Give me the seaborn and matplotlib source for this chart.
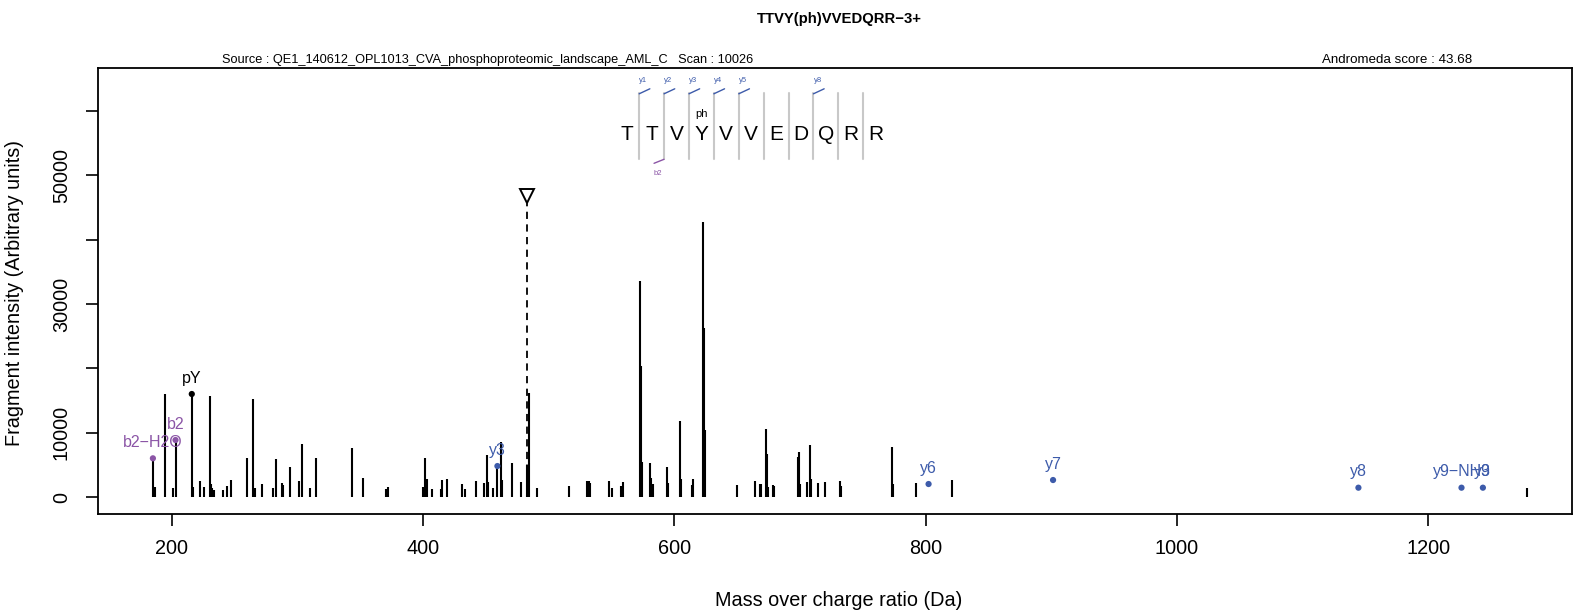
import matplotlib
matplotlib.use("Agg")
import matplotlib.pyplot as plt
import seaborn as sns
import pandas as pd
from matplotlib.lines import Line2D

# ---------------- data ----------------
peak_mz = [
    185.09, 187.0, 195.0, 200.9, 203.10, 216.04, 216.7, 222.9, 226.0, 230.3,
    231.4, 232.4, 233.5, 240.9, 244.1, 247.0, 260.3, 265.0, 266.1, 272.2,
    280.9, 283.1, 287.6, 288.6, 294.2, 301.4, 303.5, 310.4, 315.2, 343.3,
    352.1, 370.6, 372.5, 400.1, 401.9, 403.0, 407.0, 414.2, 415.5, 418.9,
    431.4, 433.7, 442.3, 448.9, 451.0, 452.1, 456.0, 459.28, 462.4, 463.2,
    470.7, 477.8, 483.0, 484.2, 491.0, 516.3, 530.6, 531.9, 533.2, 547.9,
    550.5, 557.4, 559.3, 572.9, 573.4, 574.6, 580.5, 581.6, 582.9, 594.4,
    595.4, 604.6, 605.4, 613.9, 614.6, 623.2, 623.7, 624.2, 650.2, 664.1,
    668.3, 668.9, 672.8, 673.6, 674.4, 678.4, 679.7, 698.3, 699.3, 700.4,
    705.4, 707.8, 708.6, 714.7, 719.8, 731.7, 732.8, 773.1, 773.9, 792.4,
    820.8, 1278.5,
]
peak_intensity = [
    6040, 1530, 15970, 1380, 8880, 16020, 1640, 2570, 1640, 15760,
    2050, 1380, 1120, 1120, 1740, 2670, 6130, 15190, 1380, 2050,
    1480, 5930, 2150, 1900, 4690, 2510, 8310, 1480, 6080, 7690,
    3030, 1220, 1530, 1560, 6030, 2880, 1330, 1220, 2670, 2820,
    2000, 1330, 2510, 2200, 6550, 2300, 1430, 4840, 8620, 2670,
    5260, 2300, 5000, 16100, 1380, 1790, 2570, 2570, 2150, 2500,
    1380, 1740, 2300, 33500, 20400, 5450, 5360, 2930, 2000, 4640,
    2250, 11780, 2770, 1900, 2800, 42660, 26250, 10400, 1900, 2570,
    2100, 2000, 10600, 6700, 1600, 1850, 1700, 6190, 7000, 2100,
    2400, 8050, 2800, 2150, 2300, 2460, 1700, 7850, 2100, 2150,
    2670, 1500,
]

ann_label = ["b2\u2212H2O", "b2", "pY", "y3", "y6", "y7", "y8", "y9\u2212NH3", "y9"]
ann_mz = [185.09, 203.10, 216.04, 459.28, 802.42, 901.49, 1144.52, 1226.56, 1243.58]
ann_intensity = [6040, 8880, 16020, 4840, 2050, 2670, 1480, 1480, 1480]
ann_type = ["b", "b", "immonium", "y", "y", "y", "y", "y", "y"]

precursor_mz = 482.56
precursor_marker_intensity = 46800

peptide = "TTVYVVEDQRR"
phospho_position = 4          # 1-based residue carrying "ph"
seq_y_ions = [1, 2, 3, 4, 5, 8]
seq_b_ions = [2]

title_text = "TTVY(ph)VVEDQRR\u22123+"
source_text = "Source : QE1_140612_OPL1013_CVA_phosphoproteomic_landscape_AML_C   Scan : 10026"
score_text = "Andromeda score : 43.68"
x_label = "Mass over charge ratio (Da)"
y_label = "Fragment intensity (Arbitrary units)"
x_ticks = [200, 400, 600, 800, 1000, 1200]
y_ticks = [0, 10000, 20000, 30000, 40000, 50000, 60000]
y_tick_labels = ["0", "10000", "", "30000", "", "50000", ""]

# ---------------- style ----------------
sns.set_theme(style="ticks")
plt.rcParams["font.family"] = ["Liberation Sans", "DejaVu Sans"]
plt.rcParams["axes.edgecolor"] = "black"
plt.rcParams["xtick.color"] = "black"
plt.rcParams["ytick.color"] = "black"
plt.rcParams["text.color"] = "black"

BLUE = "#3D5BAA"
PURPLE = "#8B55A6"
palette = {"b": PURPLE, "y": BLUE, "immonium": "black"}

W, H = 1578, 611
fig = plt.figure(figsize=(W / 100, H / 100), dpi=100)
fig.patch.set_facecolor("white")
L, R, T, B = 98, 1572, 68.4, 514.3
ax = fig.add_axes([L / W, 1 - B / H, (R - L) / W, (B - T) / H])
ax.set_facecolor("white")

# peaks
ax.vlines(peak_mz, 0, peak_intensity, colors="black", linewidth=1.5)

# precursor marker
ax.vlines([precursor_mz], 0, [precursor_marker_intensity - 1200], colors="black",
          linewidth=1.3, linestyles=(0, (4, 3)))
ax.plot([precursor_mz], [precursor_marker_intensity], marker="v", markersize=10,
        markerfacecolor="none", markeredgecolor="black", markeredgewidth=1.4,
        linestyle="none")

# annotated ions
ann_df = pd.DataFrame({"mz": ann_mz, "intensity": ann_intensity,
                       "type": ann_type, "label": ann_label})
sns.scatterplot(data=ann_df, x="mz", y="intensity", hue="type", palette=palette,
                s=20, edgecolor="none", legend=False, ax=ax, zorder=5)
for _, r in ann_df.iterrows():
    ax.annotate(r["label"], (r["mz"], r["intensity"]), xytext=(0, 11.5),
                textcoords="offset points", ha="center", va="center",
                fontsize=11.5, color=palette[r["type"]], zorder=6)

# axes
ax.set_xlim(141.4, 1314.5)
ax.set_ylim(-2650, 66560)
ax.set_xticks(x_ticks)
ax.set_xticklabels([str(t) for t in x_ticks])
ax.set_yticks(y_ticks)
ax.set_yticklabels(y_tick_labels, rotation=90, va="center")
ax.tick_params(axis="both", length=8.6, width=1.2, direction="out", labelsize=14.3)
ax.tick_params(axis="x", pad=9)
ax.tick_params(axis="y", pad=11)
for s in ax.spines.values():
    s.set_visible(True)
    s.set_linewidth(1.3)
    s.set_color("black")
ax.set_xlabel("")
ax.set_ylabel("")

def fx(x):
    return x / W

def fy(y):
    return 1 - y / H

fig.text(fx(839), fy(600.5), x_label, ha="center", va="center", fontsize=14.3)
fig.text(fx(15), fy(293), y_label, ha="center", va="center", rotation=90, fontsize=14.3)
fig.text(fx(839), fy(19.5), title_text, ha="center", va="center", fontsize=10.7,
         fontweight="bold")
fig.text(fx(221.5), fy(60.4), source_text, ha="left", va="center", fontsize=9.2)
fig.text(fx(1472), fy(60.4), score_text, ha="right", va="center", fontsize=9.6)

# sequence annotation
x0, step = 626.7, 24.9
sep_top, sep_bot = 93.3, 159.3
for i, aa in enumerate(peptide):
    fig.text(fx(x0 + i * step), fy(140), aa, ha="center", va="baseline", fontsize=15)
fig.text(fx(x0 + (phospho_position - 1) * step), fy(114.3), "ph", ha="center",
         va="center", fontsize=8)
for i in range(len(peptide) - 1):
    sx = x0 + step / 2 + i * step
    fig.add_artist(Line2D([fx(sx), fx(sx)], [fy(sep_top), fy(sep_bot)],
                          transform=fig.transFigure, color="#C8C8C8", linewidth=1.5))
for n in seq_y_ions:
    sx = x0 + step / 2 + (n - 1) * step
    fig.add_artist(Line2D([fx(sx), fx(sx + 10.7)], [fy(sep_top + 0.5), fy(sep_top - 4.5)],
                          transform=fig.transFigure, color=BLUE, linewidth=1.0))
    fig.text(fx(sx + 4.3), fy(80), f"y{n}", ha="center", va="center", fontsize=5.5,
             color=BLUE)
for n in seq_b_ions:
    sx = x0 + step / 2 + (n - 1) * step
    fig.add_artist(Line2D([fx(sx), fx(sx - 10)], [fy(sep_bot), fy(sep_bot + 4)],
                          transform=fig.transFigure, color=PURPLE, linewidth=1.0))
    fig.text(fx(sx - 6), fy(173.3), f"b{n}", ha="center", va="center", fontsize=5.5,
             color=PURPLE)

fig.savefig("out.png", dpi=100, facecolor="white")
